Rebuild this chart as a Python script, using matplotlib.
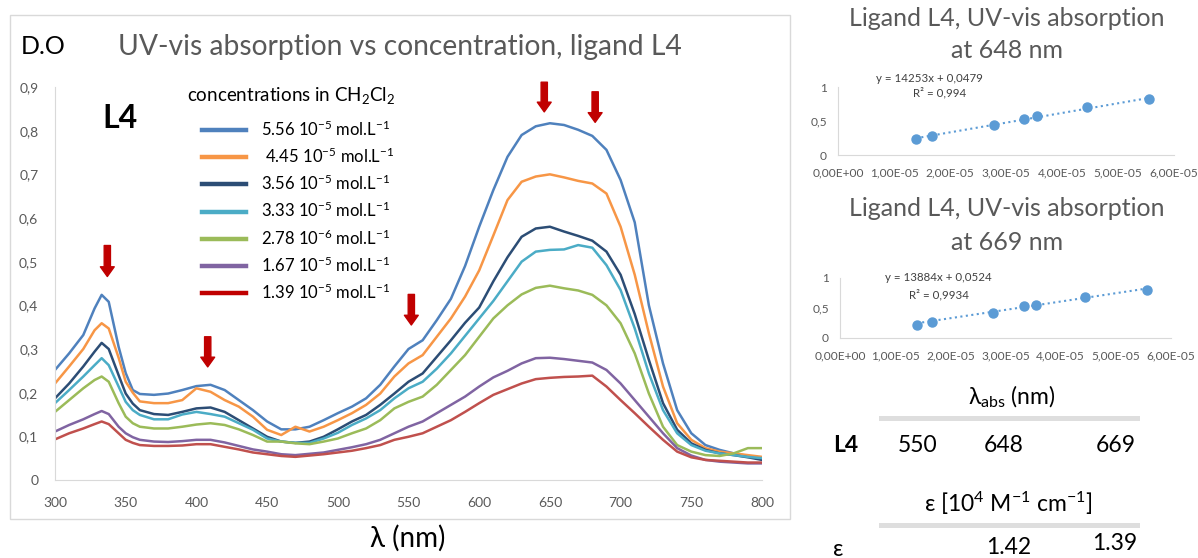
import matplotlib
matplotlib.use('agg')
import matplotlib.pyplot as plt
from matplotlib.lines import Line2D
from matplotlib.patches import Rectangle
from matplotlib.ticker import FuncFormatter
import numpy as np

plt.rcParams['font.family'] = ['Lato', 'DejaVu Sans']
plt.rcParams['mathtext.fontset'] = 'custom'
plt.rcParams['mathtext.rm'] = 'Lato'
plt.rcParams['mathtext.it'] = 'Lato:italic'
plt.rcParams['mathtext.bf'] = 'Lato:bold'
plt.rcParams['axes.unicode_minus'] = False

# ---- data ----
wavelength = [300, 310, 320, 328, 333, 338, 345, 350, 355, 360,
              370, 380, 390, 400, 410, 420, 430, 440, 450, 460,
              470, 480, 490, 500, 510, 520, 530, 540, 550, 560,
              570, 580, 590, 600, 610, 620, 630, 640, 650, 660,
              670, 680, 690, 700, 710, 720, 730, 740, 750, 760,
              770, 780, 790, 800]

od_556 = [.252, .29, .332, .393, .424, .408, .305, .245, .206, .197,
          .195, .198, .206, .215, .218, .206, .183, .16, .134, .116,
          .116, .122, .137, .153, .168, .187, .218, .26, .30, .32,
          .366, .415, .49, .58, .664, .74, .79, .81, .817, .813,
          .802, .788, .756, .687, .59, .40, .267, .16, .107, .08,
          .069, .061, .055, .05]
od_445 = [.221, .26, .30, .343, .359, .347, .28, .225, .20, .18,
          .176, .176, .183, .21, .202, .183, .168, .145, .115, .103,
          .122, .111, .122, .137, .153, .172, .198, .237, .267, .286,
          .328, .37, .42, .48, .56, .641, .683, .695, .70, .693,
          .685, .679, .656, .58, .47, .336, .214, .13, .092, .073,
          .065, .061, .057, .053]
od_356 = [.187, .221, .26, .294, .314, .30, .24, .198, .175, .16,
          .151, .149, .156, .164, .166, .156, .137, .118, .099, .088,
          .085, .088, .099, .116, .134, .149, .172, .198, .225, .244,
          .282, .32, .36, .395, .455, .51, .557, .576, .58, .569,
          .559, .548, .523, .47, .38, .275, .176, .115, .084, .069,
          .061, .057, .052, .046]
od_333 = [.176, .206, .237, .263, .279, .263, .214, .179, .16, .149,
          .139, .139, .15, .156, .151, .145, .13, .115, .095, .088,
          .085, .085, .095, .108, .126, .141, .16, .187, .21, .225,
          .255, .29, .33, .37, .41, .455, .50, .523, .527, .528,
          .538, .532, .492, .435, .347, .244, .16, .107, .08, .067,
          .061, .057, .053, .05]
od_278 = [.156, .183, .21, .229, .237, .225, .176, .145, .13, .122,
          .118, .118, .122, .127, .13, .126, .116, .103, .088, .088,
          .084, .082, .088, .095, .107, .118, .137, .164, .179, .191,
          .218, .252, .286, .328, .37, .40, .425, .44, .445, .439,
          .434, .424, .40, .359, .29, .198, .122, .08, .065, .057,
          .055, .061, .073, .073]
od_167 = [.111, .126, .139, .151, .158, .151, .122, .107, .098, .092,
          .088, .087, .089, .092, .092, .086, .078, .07, .065, .059,
          .057, .06, .063, .069, .075, .082, .092, .107, .122, .134,
          .153, .172, .191, .214, .235, .25, .267, .279, .28, .277,
          .273, .269, .252, .221, .183, .145, .107, .073, .056, .046,
          .042, .04, .038, .038]
od_139 = [.093, .107, .118, .128, .134, .128, .107, .092, .085, .08,
          .078, .078, .079, .082, .082, .076, .07, .063, .059, .055,
          .053, .056, .059, .063, .067, .073, .08, .092, .099, .107,
          .122, .137, .156, .176, .195, .208, .221, .231, .234, .236,
          .237, .239, .214, .183, .153, .122, .092, .065, .052, .046,
          .044, .042, .04, .04]

series = [od_556, od_445, od_356, od_333, od_278, od_167, od_139]
legend_labels = ['5.56 10$^{-5}$ mol.L$^{-1}$', ' 4.45 10$^{-5}$ mol.L$^{-1}$',
                 '3.56 10$^{-5}$ mol.L$^{-1}$', '3.33 10$^{-5}$ mol.L$^{-1}$',
                 '2.78 10$^{-6}$ mol.L$^{-1}$', '1.67 10$^{-5}$ mol.L$^{-1}$',
                 '1.39 10$^{-5}$ mol.L$^{-1}$']
line_colors = ['#4f81bd', '#f79646', '#2c4d75', '#4bacc6', '#9bbb59', '#8064a2', '#c0504d']
legend_colors = ['#4f81bd', '#f79646', '#2c4d75', '#4bacc6', '#9bbb59', '#8064a2', '#c00000']

# arrows marking the bands (wavelength, tail, tip)
arrow_wl = [337, 408, 552, 646, 682]
arrow_tail = [0.537, 0.328, 0.425, 0.911, 0.889]
arrow_tip = [0.466, 0.259, 0.355, 0.843, 0.819]

# calibration points
conc = [1.39e-5, 1.67e-5, 2.78e-5, 3.33e-5, 3.56e-5, 4.45e-5, 5.56e-5]
abs_648 = [0.229, 0.278, 0.439, 0.527, 0.576, 0.702, 0.820]
abs_669 = [0.225, 0.265, 0.42, 0.53, 0.555, 0.685, 0.795]
fit_648 = (14253, 0.0479)
fit_669 = (13884, 0.0524)

W, H = 1198, 558
fig = plt.figure(figsize=(W / 100, H / 100), dpi=100)


def fx(px):
    return px / W


def fy(py):
    return 1 - py / H


def axes_px(x0, x1, ytop, ybot):
    return fig.add_axes([fx(x0), fy(ybot), (x1 - x0) / W, (ybot - ytop) / H])


grey = '#595959'
comma = FuncFormatter(lambda v, p: '0' if v == 0 else ('%g' % round(v, 2)).replace('.', ','))

# outer frame of the excel chart
fig.add_artist(Rectangle((fx(10), fy(519)), 780 / W, 504 / H, transform=fig.transFigure,
                         fill=False, edgecolor='#d9d9d9', lw=1))

# ---- main spectra ----
ax = axes_px(55, 762, 87, 480)
for vals, c in zip(series, line_colors):
    ax.plot(wavelength, vals, color=c, lw=1.8)
ax.set_xlim(300, 800)
ax.set_ylim(0, 0.9)
ax.set_xticks(np.arange(300, 801, 50))
ax.set_yticks(np.arange(0, 0.91, 0.1))
ax.yaxis.set_major_formatter(comma)
ax.tick_params(length=0, labelsize=10, labelcolor=grey)
ax.tick_params(axis='x', pad=12)
ax.tick_params(axis='y', pad=12)
for s in ['top', 'right']:
    ax.spines[s].set_visible(False)
for s in ['left', 'bottom']:
    ax.spines[s].set_color('#d9d9d9')
ax.patch.set_alpha(0)

for xw, y0, y1 in zip(arrow_wl, arrow_tail, arrow_tip):
    ax.annotate('', xy=(xw, y1), xytext=(xw, y0), annotation_clip=False,
                arrowprops=dict(color='#c00000', width=4.5, headwidth=10,
                                headlength=7, shrink=0))

handles = [Line2D([], [], color=c, lw=3.2) for c in legend_colors]
ax.legend(handles, legend_labels, loc='upper left', bbox_to_anchor=(fx(194), fy(111)),
          bbox_transform=fig.transFigure, frameon=False, fontsize=12,
          handlelength=2.6, handletextpad=0.9, labelspacing=0.47, borderpad=0)

fig.text(fx(187), fy(95), 'concentrations in CH$_2$Cl$_2$', fontsize=13.5, va='center')
fig.text(fx(102), fy(118), 'L4', fontsize=23, fontweight='bold', va='center')
fig.text(fx(21), fy(46), 'D.O', fontsize=18, va='center')
fig.text(fx(400), fy(47), 'UV-vis absorption vs concentration, ligand L4', fontsize=20.3,
         color=grey, ha='center', va='center')
fig.text(fx(408), fy(538), 'λ (nm)', fontsize=20, ha='center', va='center')


# ---- calibration insets ----
def inset(x0, x1, ytop, ybot, y_vals, fit, title_y, eq_xy, r2_xy, eq_txt, r2_txt):
    a = axes_px(x0, x1, ytop, ybot)
    a.plot(conc, y_vals, 'o', color='#5b9bd5', ms=6.5)
    xs = np.array([min(conc), max(conc)])
    a.plot(xs, fit[0] * xs + fit[1], ':', color='#5b9bd5', lw=1.5)
    a.set_xlim(0, 6e-5)
    a.set_ylim(0, 1)
    a.set_xticks(np.arange(0, 6.01e-5, 1e-5))
    a.set_yticks([0, 0.5, 1])
    a.xaxis.set_major_formatter(FuncFormatter(lambda v, p: ('%.2E' % v).replace('.', ',')))
    a.yaxis.set_major_formatter(comma)
    a.tick_params(length=0, labelsize=8.6, labelcolor=grey)
    a.tick_params(axis='x', pad=9)
    a.tick_params(axis='y', pad=8)
    for s in ['top', 'right']:
        a.spines[s].set_visible(False)
    for s in ['left', 'bottom']:
        a.spines[s].set_color('#d9d9d9')
    fig.text(fx(1007), fy(title_y[0]), 'Ligand L4, UV-vis absorption', fontsize=18,
             color=grey, ha='center', va='center')
    fig.text(fx(1007), fy(title_y[1]), title_y[2], fontsize=18, color=grey,
             ha='center', va='center')
    fig.text(fx(eq_xy[0]), fy(eq_xy[1]), eq_txt, fontsize=8.3, color='#404040', va='center')
    fig.text(fx(r2_xy[0]), fy(r2_xy[1]), r2_txt, fontsize=8.3, color='#404040', va='center')
    return a


inset(838, 1174, 87, 155, abs_648, fit_648, (18, 50, 'at 648 nm'), (876, 79), (913, 93),
      'y = 14253x + 0,0479', 'R² = 0,994')
inset(840, 1171, 278, 338, abs_669, fit_669, (208, 242, 'at 669 nm'), (885, 278), (909, 295),
      'y = 13884x + 0,0524', 'R² = 0,9934')

# ---- small table ----
fig.add_artist(Rectangle((fx(879), fy(421)), 261 / W, 5 / H, transform=fig.transFigure,
                         facecolor='#dedede', edgecolor='none'))
fig.add_artist(Rectangle((fx(879), fy(528)), 261 / W, 5 / H, transform=fig.transFigure,
                         facecolor='#dedede', edgecolor='none'))
tfs = 16.5
fig.text(fx(1012), fy(397), 'λ$_{\\mathregular{abs}}$ (nm)', fontsize=tfs, ha='center', va='center')
fig.text(fx(833), fy(445), 'L4', fontsize=tfs, fontweight='bold', va='center')
for xc, t in zip([918, 1004, 1116], ['550', '648', '669']):
    fig.text(fx(xc), fy(445), t, fontsize=tfs, ha='center', va='center')
fig.text(fx(1008), fy(503), 'ε [10$^{4}$ M$^{-1}$ cm$^{-1}$]', fontsize=tfs, ha='center', va='center')
fig.text(fx(833), fy(549), 'ε', fontsize=tfs, va='center')
fig.text(fx(1009), fy(548), '1.42', fontsize=tfs, ha='center', va='center')
fig.text(fx(1115), fy(544), '1.39', fontsize=tfs, ha='center', va='center')

fig.savefig('out.png', dpi=100)
